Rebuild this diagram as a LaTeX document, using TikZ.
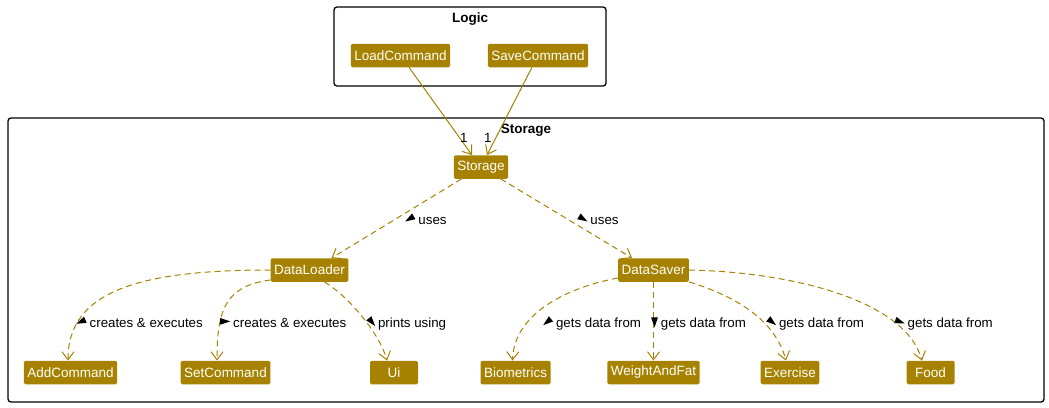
\documentclass[tikz,border=0pt]{standalone}
\usepackage{fontspec}
\setmainfont{Liberation Sans}
\usetikzlibrary{positioning, calc, arrows.meta}
\definecolor{umlgold}{RGB}{166,130,0}
\newcommand{\dirtri}[1]{\tikz[baseline=-0.8ex]\fill[black, rotate=#1] (0:6pt) -- (140:5.2pt) -- (220:5.2pt) -- cycle;}

\begin{document}
\begin{tikzpicture}[x = 1pt, y = -1pt]
\begin{scope}[
	cls/.style={
		fill=umlgold, text=white, rounded corners=1.5pt,
		minimum height=23.5pt, minimum width=48pt, inner xsep=3.5pt, inner ysep=0pt,
		font=\fontsize{13.5}{16}\selectfont
	},
	pkg/.style={draw, line width=1.3pt, rounded corners=3pt, inner sep=0pt},
	pkgtitle/.style={inner sep=0pt, font=\fontsize{13.5}{16}\selectfont\bfseries},
	lbl/.style={anchor=base west, inner sep=0pt, font=\fontsize{13.3}{16}\selectfont},
	uses/.style={
		draw=umlgold, line width=1pt, dash pattern=on 6pt off 4pt,
		-{Straight Barb[length=8pt, width=12pt]}
	},
	assoc/.style={draw=umlgold, line width=1pt, -{Straight Barb[length=8pt, width=12pt]}}
]
\useasboundingbox (0, 0) rectangle (1049, 407);
\node[pkg, minimum width=272pt, minimum height=79pt] (logic) at (470, 46.5) {};
\node[pkgtitle, below=6.5pt of logic.north] (logic-title) {Logic};
\node[pkg, minimum width=1036pt, minimum height=284pt] (storage) at (526, 260) {};
\node[pkgtitle, below=7pt of storage.north] (storage-title) {Storage};

\node[cls] (LoadCommand) at (400.5, 55.5) {LoadCommand};
\node[cls] (SaveCommand) at (538, 55.5) {SaveCommand};
\node[cls] (Storage) at (481, 167) {Storage};
\node[cls] (DataLoader) at (309.5, 270) {DataLoader};
\node[cls] (DataSaver) at (653.5, 270) {DataSaver};
\foreach \name/\x in {AddCommand/70.5, SetCommand/225.5, Ui/394, Biometrics/515.5, WeightAndFat/653.5, Exercise/790, Food/930.5} {
	\node[cls] (\name) at (\x, 372.5) {\name};
}

\draw[assoc] (LoadCommand) -- ([xshift=-9pt]Storage.north);
\draw[assoc] (SaveCommand) -- ([xshift=6pt]Storage.north);
\node[lbl] (mult-load) at (460, 142) {1};
\node[lbl] (mult-save) at (484, 142) {1};

\draw[uses] (Storage) -- ([xshift=22pt]DataLoader.north);
\draw[uses] (Storage) -- ([xshift=-21.5pt]DataSaver.north);
\draw[uses] (DataLoader.west) .. controls +(-130, 0) and +(0, -70) .. ([xshift=-2.5pt]AddCommand.north);
\draw[uses] ([yshift=2pt]DataLoader.south west) .. controls +(-45, 6) and +(0, -51) .. ([xshift=-8.5pt]SetCommand.north);
\draw[uses] ([xshift=15pt]DataLoader.south) .. controls +(25, 15) and +(-7, -26) .. ([xshift=-7pt]Ui.north);
\draw[uses] ([yshift=4pt]DataSaver.south west) .. controls +(-53, 10) and +(1.5, -46) .. ([xshift=-3pt]Biometrics.north);
\draw[uses] (DataSaver) -- (WeightAndFat);
\draw[uses] (DataSaver.south east) .. controls +(46, 14) and +(-11, -41) .. ([xshift=-4pt]Exercise.north);
\draw[uses] (DataSaver.east) .. controls +(101, 2) and +(-17, -61) .. ([xshift=-8.5pt]Food.north);

\foreach \x/\y/\ang/\txt/\nm in {405/224/211/uses/loader, 577/224/-31/uses/saver,
	76/327/204/creates \& executes/add, 220/327/0/creates \& executes/set, 366/327/-51/prints using/ui,
	543/327/219/gets data from/bio, 651/327/-90/gets data from/wf, 766/327/-39/gets data from/ex,
	894/327/-20/gets data from/food} {
	\node[lbl] (lbl-\nm) at (\x, \y) {\dirtri{\ang}\hspace{3pt}\txt};
}
\end{scope}
\end{tikzpicture}
\end{document}
